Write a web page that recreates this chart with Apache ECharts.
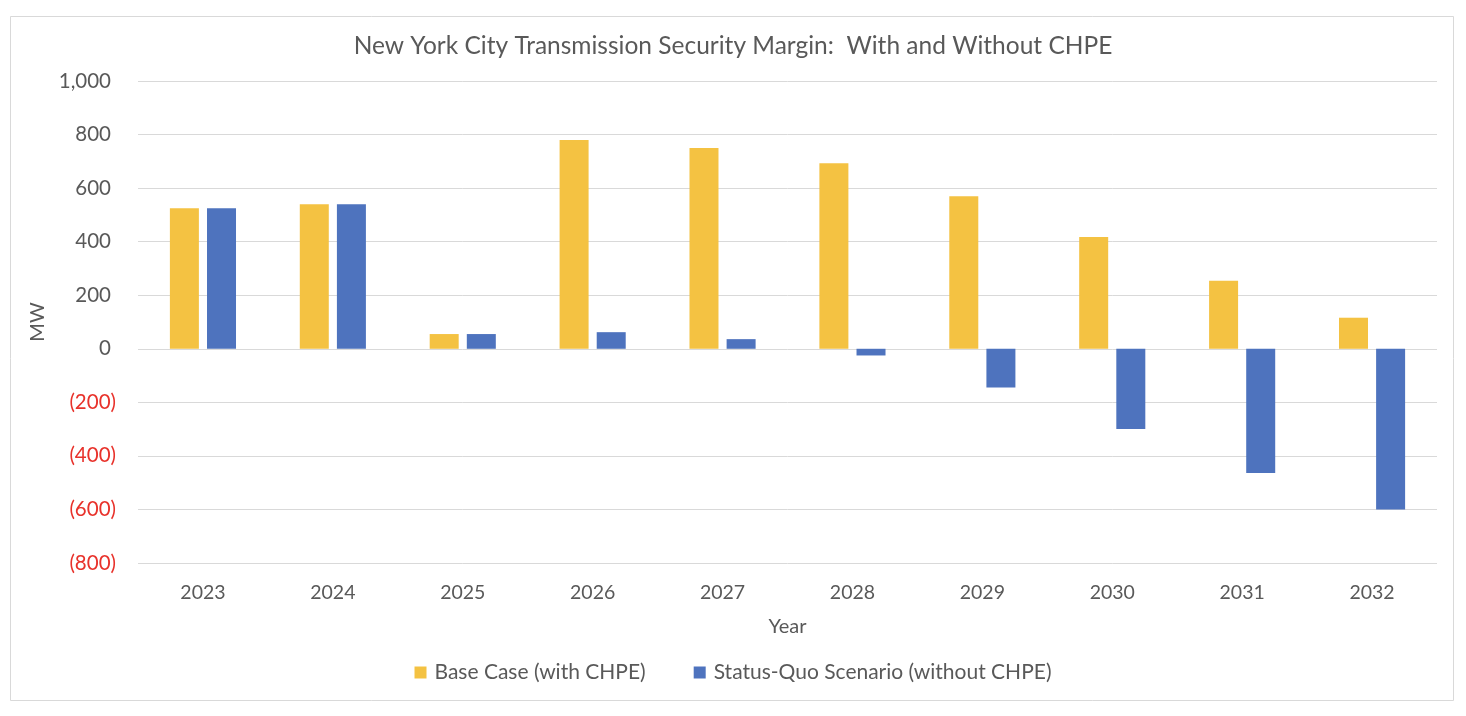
<!DOCTYPE html>
<html>
<head>
<meta charset="utf-8">
<script src="https://cdn.jsdelivr.net/npm/echarts@6/dist/echarts.min.js"></script>
<style>
html,body{margin:0;padding:0;background:#fff;}
#chart{width:1466px;height:716px;}
</style>
</head>
<body>
<div id="chart"></div>
<script>
const years = ['2023','2024','2025','2026','2027','2028','2029','2030','2031','2032'];
const baseCase = [525, 540, 55, 780, 750, 693, 570, 417, 254, 116];
const statusQuo = [525, 540, 55, 62, 36, -25, -145, -300, -464, -600];
const seriesNames = ['Base Case (with CHPE)', 'Status-Quo Scenario (without CHPE)'];
const titleText = 'New York City Transmission Security Margin:  With and Without CHPE';

const FONT = 'Lato';
const GREY = '#595959';
const chart = echarts.init(document.getElementById('chart'));
chart.setOption({
  backgroundColor: '#fff',
  animation: false,
  graphic: [{
    type: 'rect', shape: {x: 10.5, y: 16.5, width: 1443, height: 684},
    style: {fill: 'none', stroke: '#d9d9d9', lineWidth: 1}, silent: true
  }],
  title: {
    text: titleText, left: 'center', top: 29,
    textStyle: {fontFamily: FONT, fontSize: 24.5, fontWeight: 'normal', color: GREY}
  },
  legend: {
    data: seriesNames, bottom: 28, left: 'center',
    itemWidth: 12, itemHeight: 12, itemGap: 48, icon: 'rect',
    textStyle: {fontFamily: FONT, fontSize: 21, color: GREY, padding: [0,0,0,3]}
  },
  grid: {left: 138, right: 29, top: 81, bottom: 153},
  xAxis: {
    type: 'category', data: years,
    name: 'Year', nameLocation: 'middle', nameGap: 54,
    nameTextStyle: {fontFamily: FONT, fontSize: 20, color: GREY},
    axisLine: {show: false}, axisTick: {show: false},
    axisLabel: {fontFamily: FONT, fontSize: 19.5, color: GREY, margin: 20}
  },
  yAxis: {
    type: 'value', min: -800, max: 1000, interval: 200,
    name: 'MW', nameLocation: 'middle', nameGap: 88, nameRotate: 90,
    nameTextStyle: {fontFamily: FONT, fontSize: 20, color: GREY},
    axisLine: {show: false}, axisTick: {show: false},
    splitLine: {lineStyle: {color: '#d9d9d9', width: 1}},
    axisLabel: {
      margin: 22,
      formatter: function (v) {
        if (v < 0) return '{n|(' + Math.abs(v).toLocaleString('en-US') + ')}';
        return '{p|' + v.toLocaleString('en-US') + '}';
      },
      rich: {
        p: {fontFamily: FONT, fontSize: 20.5, color: GREY, padding: [0, 5, 0, 0]},
        n: {fontFamily: FONT, fontSize: 20.5, color: '#E8322B'}
      }
    }
  },
  series: [
    {name: seriesNames[0], type: 'bar', data: baseCase, barWidth: 29, barGap: '28%',
     itemStyle: {color: '#F4C242'}},
    {name: seriesNames[1], type: 'bar', data: statusQuo, barWidth: 29,
     itemStyle: {color: '#4E73BE'}}
  ]
});
</script>
</body>
</html>
